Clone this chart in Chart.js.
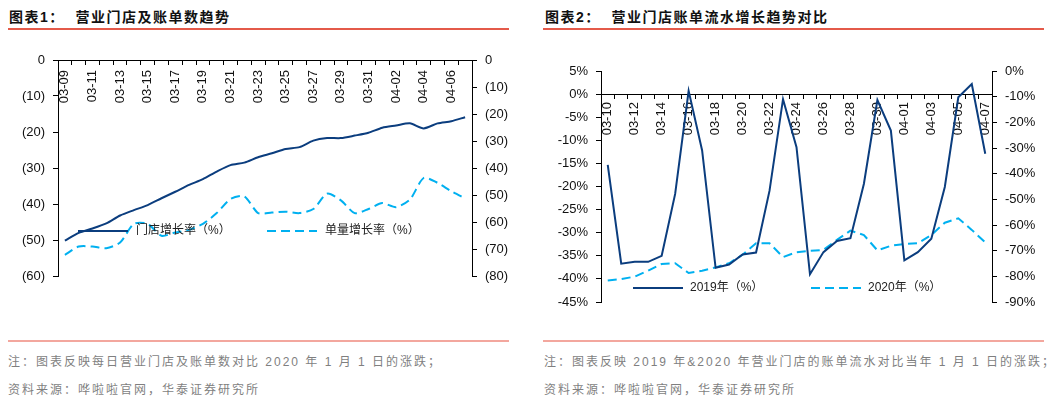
<!DOCTYPE html>
<html>
<head>
<meta charset="utf-8">
<script src="https://cdn.jsdelivr.net/npm/chart.js@4.4.1/dist/chart.umd.min.js"></script>
<style>
    body { margin: 0; background: #fff; width: 1060px; height: 399px; overflow: hidden; position: relative; }
    .title { position: absolute; top: 7px; font: bold 14px 'Liberation Sans', 'Noto Sans CJK SC', sans-serif; line-height: 20px; letter-spacing: 1.5px; color: #111; white-space: nowrap; }
    .redline { position: absolute; top: 28px; height: 2px; background: #e45a4a; }
    .pinkline { position: absolute; top: 340px; height: 2px; background: #f3a79e; }
    .note { position: absolute; font: 12px 'Liberation Sans', 'Noto Sans CJK SC', sans-serif; line-height: 16px; letter-spacing: 2px; color: #7f7f7f; white-space: nowrap; }
    canvas { position: absolute; }
</style>
</head>
<body>
<div class="title" style="left:9px">图表1：&nbsp;&nbsp;营业门店及账单数趋势</div>
<div class="redline" style="left:8px;width:501px"></div>
<div class="title" style="left:545px">图表2：&nbsp;&nbsp;营业门店账单流水增长趋势对比</div>
<div class="redline" style="left:543px;width:501px"></div>

<canvas id="storeChart" width="530" height="260" style="left:0;top:40px"></canvas>
<canvas id="flowChart" width="530" height="280" style="left:530px;top:40px"></canvas>

<div class="pinkline" style="left:8px;width:501px"></div>
<div class="pinkline" style="left:543px;width:501px"></div>
<div class="note" style="left:8px;top:354px">注：图表反映每日营业门店及账单数对比 2020 年 1 月 1 日的涨跌；</div>
<div class="note" style="left:8px;top:382px">资料来源：哗啦啦官网，华泰证券研究所</div>
<div class="note" style="left:544px;top:354px">注：图表反映 2019 年&amp;2020 年营业门店的账单流水对比当年 1 月 1 日的涨跌；</div>
<div class="note" style="left:544px;top:382px">资料来源：哗啦啦官网，华泰证券研究所</div>

<script>
// chart 1 data
const days1 = ['03-09', '03-10', '03-11', '03-12', '03-13', '03-14', '03-15', '03-16', '03-17', '03-18',
    '03-19', '03-20', '03-21', '03-22', '03-23', '03-24', '03-25', '03-26', '03-27', '03-28',
    '03-29', '03-30', '03-31', '04-01', '04-02', '04-03', '04-04', '04-05', '04-06', '04-07'];
const storeGrowth = [-50.2, -48.0, -46.8, -45.4, -43.2, -41.7, -40.3, -38.4, -36.6, -34.7,
    -33.1, -31.0, -29.2, -28.5, -27.0, -25.9, -24.7, -24.2, -22.4, -21.7,
    -21.7, -21.0, -20.2, -18.8, -18.2, -17.6, -19.0, -17.6, -17.0, -15.9];
const orderGrowth = [-72.2, -69.1, -69.1, -69.7, -67.6, -60.7, -60.7, -65.1, -63.9, -62.9,
    -60.7, -56.7, -51.5, -50.5, -56.7, -56.5, -56.2, -56.7, -55.2, -49.5,
    -52.0, -56.7, -55.2, -53.0, -54.5, -51.7, -43.7, -45.5, -48.6, -51.2];
const storeTicksLeft = [0, -10, -20, -30, -40, -50, -60];
const storeTicksRight = [0, -10, -20, -30, -40, -50, -60, -70, -80];

// chart 2 data
const days2 = ['03-10', '03-11', '03-12', '03-13', '03-14', '03-15', '03-16', '03-17', '03-18', '03-19',
    '03-20', '03-21', '03-22', '03-23', '03-24', '03-25', '03-26', '03-27', '03-28', '03-29',
    '03-30', '03-31', '04-01', '04-02', '04-03', '04-04', '04-05', '04-06', '04-07'];
const flow2019 = [-15.3, -36.7, -36.3, -36.3, -35.0, -21.6, 0.7, -12.2, -37.6, -36.9,
    -34.7, -34.3, -20.9, -1.1, -11.5, -39.0, -34.2, -31.8, -31.2, -19.4,
    -1.3, -7.9, -36.0, -34.2, -31.3, -20.1, -0.7, 2.2, -12.9];
const flow2020 = [-81.6, -81.1, -80.1, -77.8, -75.2, -74.9, -78.7, -77.8, -76.5, -74.9,
    -71.6, -67.1, -67.1, -72.5, -70.6, -70.1, -69.7, -65.8, -62.2, -63.9,
    -69.9, -68.1, -67.4, -67.1, -63.9, -59.1, -57.4, -61.9, -66.8];

const NAVY = '#0b3d7e';
const SKY = '#00b0f0';

Chart.defaults.font.family = "'Liberation Sans', Arial, sans-serif";
Chart.defaults.font.size = 13;
Chart.defaults.color = '#111';

// legend drawn inside the plot, like the original
const inlineLegend = {
    id: 'inlineLegend',
    afterDatasetsDraw(chart, args, opts) {
        const ctx = chart.ctx;
        opts.items.forEach((item, i) => {
            const ds = chart.data.datasets[i];
            ctx.save();
            ctx.strokeStyle = ds.borderColor;
            ctx.lineWidth = ds.borderWidth;
            ctx.setLineDash(ds.borderDash || []);
            ctx.beginPath();
            ctx.moveTo(item.x, item.y);
            ctx.lineTo(item.x + opts.lineLength, item.y);
            ctx.stroke();
            ctx.setLineDash([]);
            ctx.fillStyle = '#222';
            ctx.font = "12px 'Liberation Sans', 'Noto Sans CJK SC', sans-serif";
            ctx.textBaseline = 'middle';
            ctx.fillText(ds.label, item.x + opts.lineLength + opts.gap, item.y);
            ctx.restore();
        });
    }
};

function xAxis(labelPad) {
    return {
        type: 'category',
        position: { y: 0 },
        offset: true,
        afterFit: s => { s.height = 0; },
        grid: { drawOnChartArea: false, drawTicks: true, tickLength: 4, color: '#000', offset: true },
        border: { display: true, color: '#000', width: 1 },
        ticks: {
            autoSkip: false,
            minRotation: 90,
            maxRotation: 90,
            padding: labelPad,
            color: '#111',
            callback: function (v, i) { return i % 2 === 0 ? this.getLabelForValue(v) : ''; }
        }
    };
}

function yAxis(side, min, max, step, width, fmt) {
    return {
        position: side,
        min: min,
        max: max,
        afterFit: s => { s.width = width; },
        afterBuildTicks: s => { s.ticks = []; for (let v = max; v >= min - 0.001; v -= step) s.ticks.push({ value: v }); },
        grid: { drawOnChartArea: false, drawTicks: true, tickLength: 5, color: '#000' },
        border: { display: true, color: '#000', width: 1 },
        ticks: { padding: 8, color: '#111', callback: fmt }
    };
}

const paren = v => (v === 0 ? '0' : '(' + Math.abs(v) + ')');
const pct = v => Math.round(v) + '%';

new Chart(document.getElementById('storeChart'), {
    type: 'line',
    data: {
        labels: days1,
        datasets: [{
            label: '门店增长率（%）',
            data: storeGrowth,
            yAxisID: 'y',
            borderColor: NAVY,
            borderWidth: 2,
            pointRadius: 0,
            tension: 0.25
        }, {
            label: '单量增长率（%）',
            data: orderGrowth,
            yAxisID: 'y2',
            borderColor: SKY,
            borderWidth: 2,
            borderDash: [9, 5],
            pointRadius: 0,
            tension: 0.25
        }]
    },
    options: {
        responsive: false,
        animation: false,
        layout: { padding: { top: 20, bottom: 24, left: 0, right: 0 } },
        plugins: {
            legend: { display: false },
            tooltip: { enabled: false },
            inlineLegend: { lineLength: 50, gap: 8, items: [{ x: 78, y: 191 }, { x: 267, y: 191 }] }
        },
        scales: {
            x: xAxis(6),
            y: yAxis('left', storeTicksLeft[storeTicksLeft.length - 1], storeTicksLeft[0], 10, 58, paren),
            y2: yAxis('right', storeTicksRight[storeTicksRight.length - 1], storeTicksRight[0], 10, 58, paren)
        }
    },
    plugins: [inlineLegend]
});

new Chart(document.getElementById('flowChart'), {
    type: 'line',
    data: {
        labels: days2,
        datasets: [{
            label: '2019年（%）',
            data: flow2019,
            yAxisID: 'y',
            borderColor: NAVY,
            borderWidth: 2,
            pointRadius: 0,
            tension: 0
        }, {
            label: '2020年（%）',
            data: flow2020,
            yAxisID: 'y2',
            borderColor: SKY,
            borderWidth: 2,
            borderDash: [9, 5],
            pointRadius: 0,
            tension: 0
        }]
    },
    options: {
        responsive: false,
        animation: false,
        layout: { padding: { top: 31, bottom: 18, left: 0, right: 0 } },
        plugins: {
            legend: { display: false },
            tooltip: { enabled: false },
            inlineLegend: { lineLength: 50, gap: 7, items: [{ x: 103, y: 248 }, { x: 281, y: 248 }] }
        },
        scales: {
            x: xAxis(4),
            y: yAxis('left', -45, 5, 5, 71, pct),
            y2: yAxis('right', -90, 0, 10, 68, pct)
        }
    },
    plugins: [inlineLegend]
});
</script>
</body>
</html>
